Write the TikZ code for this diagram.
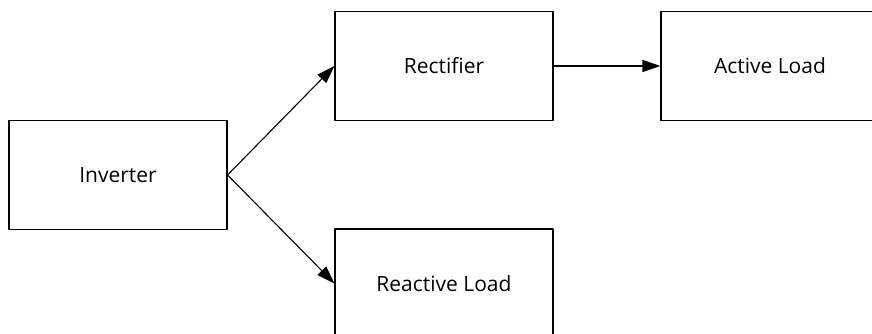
\documentclass[tikz,border=0pt]{standalone}
\usepackage{fontspec}
\setmainfont{Open Sans}
\usetikzlibrary{arrows.meta}
\begin{document}
\begin{tikzpicture}[x=1pt, y=1pt, font=\fontsize{21}{24}\selectfont, line join=round,
		>={Triangle[length=18pt, width=12pt]},
		block/.style={draw, line width=1.1pt, minimum width=218pt, minimum height=109pt, inner sep=0pt}]
			\useasboundingbox (0,0) rectangle (872,334);
			
			\node[block] (inv) at (118,159) {Inverter};
			\node[block] (rect) at (444,268) {Rectifier};
			\node[block] (act) at (770,268) {Active Load};
			\node[block] (react) at (444,50.5) {Reactive Load};
			
			\draw[->, line width=1.1pt] (inv.east) -- (rect.west);
			\draw[->, line width=1.1pt] (inv.east) -- (react.west);
			\draw[->, line width=1.1pt] (rect.east) -- (act.west);
		\end{tikzpicture}
\end{document}
